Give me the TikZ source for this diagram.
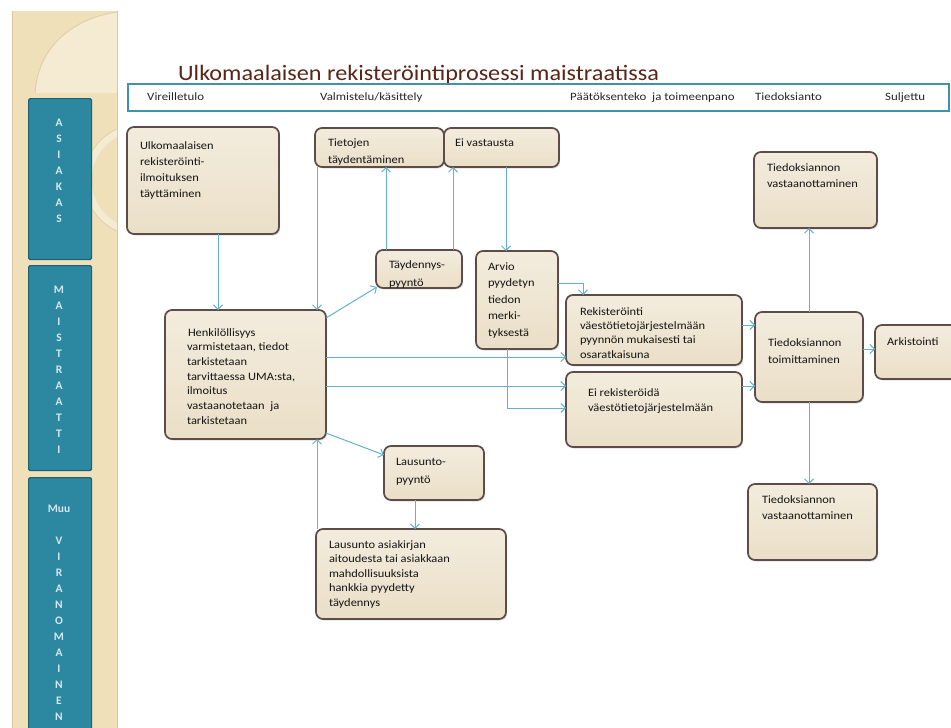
\documentclass[tikz,border=0pt]{standalone}
\usepackage{fontspec}
\setmainfont{Carlito}
\newfontfamily\boxfont[FakeStretch=1.1]{Carlito}
\newfontfamily\phasefont[FakeStretch=1.15]{Carlito}
\usetikzlibrary{arrows.meta,shadows,calc}
\definecolor{bandc}{HTML}{F0E0BA}
\definecolor{bandedge}{HTML}{DCC89A}
\definecolor{leafc}{HTML}{F5EBD2}
\definecolor{lanec}{HTML}{2C87A1}
\definecolor{laneedge}{HTML}{1D6074}
\definecolor{lanetext}{HTML}{D4E8EE}
\definecolor{boxtop}{HTML}{F3ECDD}
\definecolor{boxbot}{HTML}{EADFC8}
\definecolor{boxedge}{HTML}{5E4C48}
\definecolor{connc}{HTML}{62B3CE}
\definecolor{titlec}{HTML}{5A2418}
\definecolor{barc}{HTML}{3E93AC}
\tikzset{
  flow/.style={draw=boxedge, line width=1.7pt, rounded corners=7pt,
    top color=boxtop, bottom color=boxbot, inner sep=0pt, outer sep=0pt,
    drop shadow={shadow xshift=1.2pt, shadow yshift=-1.5pt, opacity=0.25},
    font=\boxfont\fontsize{11.3}{14}\selectfont, text=black!92},
  conn/.style={draw=connc, line width=1pt, -{Straight Barb[length=4.5pt,width=9pt,line width=1pt]}},
  lane/.style={draw=laneedge, line width=1.2pt, fill=lanec, rounded corners=1.5pt},
  lanetxt/.style={text=lanetext, font=\bfseries\fontsize{11.5}{16}\selectfont, align=center, inner sep=0pt},
  phase/.style={anchor=base west, font=\phasefont\fontsize{11.2}{12}\selectfont, text=black!85, inner sep=0pt}
}
\newcommand\flowbox[9]{\node[flow, anchor=north west, minimum width=#4pt, minimum height=#5pt] (#1) at (#2,#3) {\parbox[t][#5pt][t]{#4pt}{\raggedright\setlength\leftskip{#6pt}\setlength\baselineskip{#8pt}\rule{0pt}{#7pt}#9}};}
\begin{document}
\begin{tikzpicture}[x=1pt,y=-1pt]
\useasboundingbox (0,0) rectangle (951,728);
\clip (0,0) rectangle (951,728);
% left decorative band
\fill[bandc] (12,11) rectangle (117,740);
\begin{scope}
  \clip (12,11) rectangle (117,740);
  \fill[leafc] (35,93) .. controls (38,45) and (75,18) .. (117,12) -- (117,93) -- cycle;
  \draw[bandedge!70!bandc, line width=1pt] (35,93) .. controls (38,45) and (75,18) .. (117,12);
  \draw[leafc, line width=7pt] (140,180) circle (52);
  \draw[bandedge!60!bandc, line width=0.8pt] (140,180) circle (56);
\end{scope}
\draw[bandedge, line width=1pt] (12,11) -- (12,740);
\draw[bandedge, line width=1pt] (117,11) -- (117,740);
% lanes
\node[lane, anchor=north west, minimum width=63pt, minimum height=161pt] (l1) at (28,98) {};
\node[lane, anchor=north west, minimum width=63pt, minimum height=205pt] (l2) at (28,265) {};
\node[lane, anchor=north west, minimum width=63pt, minimum height=280pt] (l3) at (28,477) {};
\node[lanetxt] at (59,171) {A\\S\\I\\A\\K\\A\\S};
\node[lanetxt] at (59,370) {M\\A\\I\\S\\T\\R\\A\\A\\T\\T\\I};
\node[lanetxt] at (59,613) {Muu\\[16pt]V\\I\\R\\A\\N\\O\\M\\A\\I\\N\\E\\N};
% title
\node[anchor=west, text=titlec, font=\boxfont\fontsize{22}{24}\selectfont, inner sep=0pt] (title) at (178,75) {Ulkomaalaisen rekisteröintiprosessi maistraatissa};
% phase bar
\node[draw=barc, line width=2.2pt, anchor=north west, minimum width=821pt, minimum height=27pt, inner sep=0pt] (bar) at (127,83) {};
\node[phase] (p1) at (147,100) {Vireilletulo};
\node[phase] (p2) at (320,100) {Valmistelu/käsittely};
\node[phase] (p3) at (570,100) {Päätöksenteko \ ja toimeenpano};
\node[phase] (p4) at (755,100) {Tiedoksianto};
\node[phase] (p5) at (885,100) {Suljettu};
% boxes
\flowbox{ulk}{127}{127}{152}{107}{13}{22}{16}{Ulkomaalaisen\\rekisteröinti-\\ilmoituksen\\täyttäminen}
\flowbox{henk}{165}{310}{161}{129}{22}{26}{14.7}{\hspace*{1pt}Henkilöllisyys\\varmistetaan, tiedot\\tarkistetaan\\tarvittaessa UMA:sta,\\ilmoitus\\vastaanotetaan \ ja\\tarkistetaan}
\flowbox{tiet}{315}{128}{129}{39}{13}{18}{17}{Tietojen\\täydentäminen}
\flowbox{eivast}{444}{128}{115}{39}{11}{18}{17}{Ei vastausta}
\flowbox{tayd}{376}{250}{86}{38}{13}{18}{18}{Täydennys-\\pyyntö}
\flowbox{arvio}{476}{251}{82}{98}{12}{19}{16.5}{Arvio\\pyydetyn\\tiedon\\merki-\\tyksestä}
\flowbox{rek}{566}{295}{176}{70}{14}{20}{14.4}{Rekisteröinti\\väestötietojärjestelmään\\pyynnön mukaisesti tai\\osaratkaisuna}
\flowbox{eirek}{566}{372}{176}{75}{22}{24}{15}{Ei rekisteröidä\\väestötietojärjestelmään}
\flowbox{tmitt}{755}{312}{108}{90}{13}{34}{17}{Tiedoksiannon\\toimittaminen}
\flowbox{tvast1}{754}{152}{123}{76}{13}{19}{16}{Tiedoksiannon\\vastaanottaminen}
\flowbox{ark}{875}{325}{95}{54}{12}{20}{16}{Arkistointi}
\flowbox{tvast2}{748}{484}{129}{76}{14}{19}{16.5}{Tiedoksiannon\\vastaanottaminen}
\flowbox{laus}{384}{446}{100}{54}{12}{19}{18}{Lausunto-\\pyyntö}
\flowbox{lausas}{316}{529}{190}{90}{13}{19}{14.5}{Lausunto asiakirjan\\aitoudesta tai asiakkaan\\mahdollisuuksista\\hankkia pyydetty\\täydennys}
% connectors
\draw[conn] ([xshift=91pt]ulk.south west) coordinate (c1) -- (c1 |- henk.north);
\draw[conn] ([xshift=2pt]tiet.south west) coordinate (c2) -- (c2 |- henk.north);
\draw[conn] ([yshift=-8pt]henk.north east) -- ([xshift=1pt,yshift=1pt]tayd.south west);
\draw[conn] ([xshift=10pt]tayd.north west) coordinate (c3) -- (c3 |- tiet.south);
\draw[conn] ([xshift=77pt]tayd.north west) coordinate (c4) -- (c4 |- eivast.south);
\draw[conn] ([xshift=62pt]eivast.south west) coordinate (c5) -- (c5 |- arvio.north);
\draw[conn] ([yshift=-32pt]arvio.north east) -| ([xshift=17pt]rek.north west);
\draw[conn] ([xshift=31pt]arvio.south west) |- ([yshift=-36pt]eirek.north west);
\draw[conn] ([yshift=-47pt]henk.north east) coordinate (c6) -- (c6 -| rek.west);
\draw[conn] ([yshift=-76pt]henk.north east) coordinate (c7) -- (c7 -| eirek.west);
\draw[conn] ([yshift=-30pt]rek.north east) coordinate (c8) -- (c8 -| tmitt.west);
\draw[conn] ([yshift=-14pt]eirek.north east) coordinate (c9) -- (c9 -| tmitt.west);
\draw[conn] (tmitt.north) -- (tmitt.north |- tvast1.south);
\draw[conn] (tmitt.south) -- (tmitt.south |- tvast2.north);
\draw[conn] ([yshift=-37pt]tmitt.north east) coordinate (c10) -- (c10 -| ark.west);
\draw[conn] ([yshift=6pt]henk.south east) -- ([yshift=-9pt]laus.north west);
\draw[conn] ([xshift=31pt]laus.south west) coordinate (c11) -- (c11 |- lausas.north);
\draw[conn] ([xshift=1pt]lausas.north west) coordinate (c12) -- (c12 |- henk.south);
\end{tikzpicture}
\end{document}
